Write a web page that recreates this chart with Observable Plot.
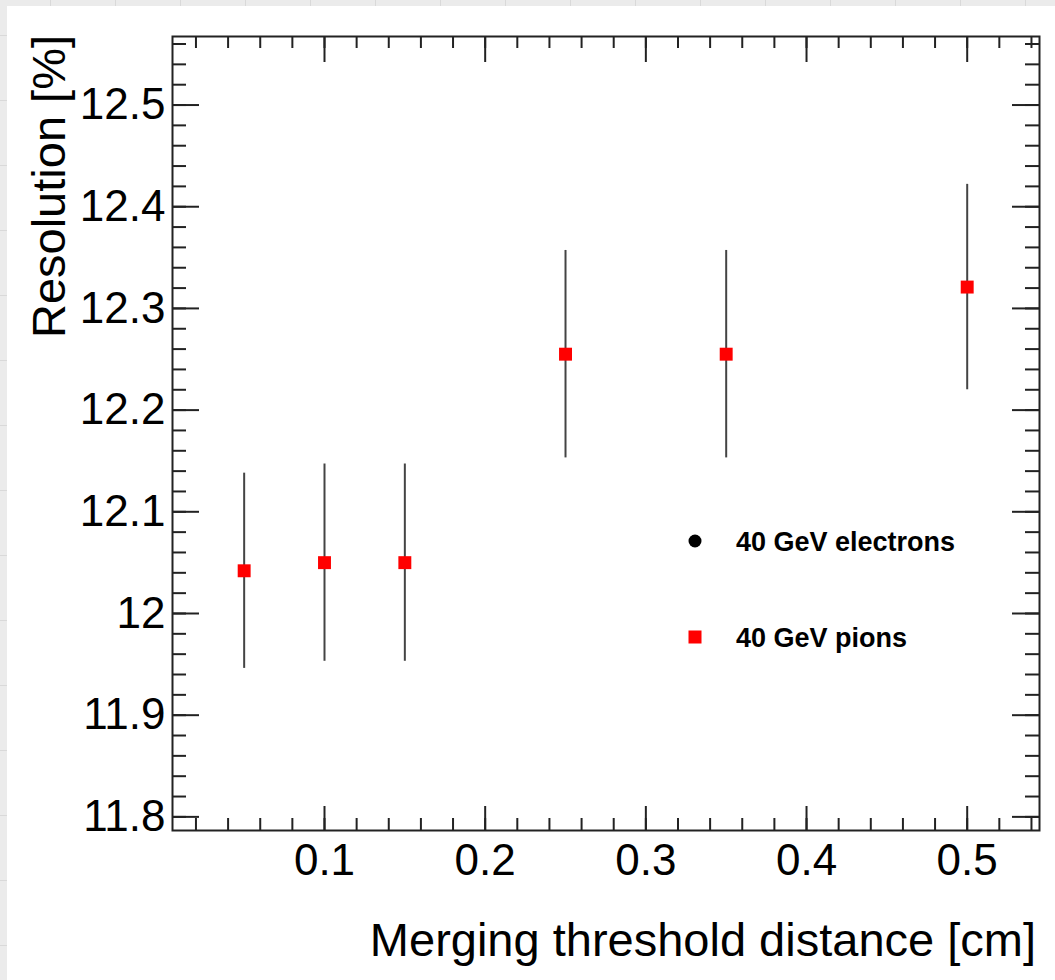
<!DOCTYPE html>
<html>
<head>
<meta charset="utf-8">
<script src="https://cdn.jsdelivr.net/npm/d3@7"></script>
<script src="https://cdn.jsdelivr.net/npm/@observablehq/plot@0.6"></script>
<style>
  html, body { margin: 0; padding: 0; }
  body {
    width: 1055px; height: 980px; overflow: hidden;
    background-color: #ebebeb;
    background-image:
      linear-gradient(to right, #d9d9d9 1px, transparent 1px),
      linear-gradient(to bottom, #d9d9d9 1px, transparent 1px);
    background-size: 65px 65px;
    background-position: 50px 35px;
  }
  #wrap { position: absolute; left: 7px; top: 6px; width: 1048px; height: 974px; background: #fff; }
  #wrap svg { display: block; }
</style>
</head>
<body>
<div id="wrap"></div>
<script>
// ---- data ----
const distances = [0.05, 0.10, 0.15, 0.25, 0.35, 0.50];          // Merging threshold distance [cm]
const pionResolution = [12.042, 12.050, 12.050, 12.255, 12.255, 12.321]; // Resolution [%]
const pionError = [0.096, 0.097, 0.097, 0.102, 0.102, 0.101];
const legendLabels = ["40 GeV electrons", "40 GeV pions"];
const legendColors = ["#000000", "#ff0000"];
const legendSymbols = ["circle", "square"];
const xMajorTicks = [0.1, 0.2, 0.3, 0.4, 0.5];
const yMajorTicks = [11.8, 11.9, 12.0, 12.1, 12.2, 12.3, 12.4, 12.5];
const xMinorTicks = d3.range(1, 28).map(k => k / 50);
const yMinorTicks = d3.range(590, 629).map(k => k / 50);
const xDomain = [0.0054, 0.545];
const yDomain = [11.7866, 12.5674];

const pions = distances.map((x, i) => ({x, y: pionResolution[i], e: pionError[i]}));

const W = 1048, H = 974;
const mL = 165, mR = 16, mT = 30, mB = 150;
const fw = W - mL - mR, fh = H - mT - mB;
const tickColor = "#222";

const plot = Plot.plot({
  width: W, height: H,
  marginLeft: mL, marginRight: mR, marginTop: mT, marginBottom: mB,
  style: {fontFamily: "'Liberation Sans', Arial, Helvetica, sans-serif", color: "#000", background: "transparent"},
  x: {domain: xDomain},
  y: {domain: yDomain},
  marks: [
    // ticks (ROOT style: inward, on all four sides)
    Plot.ruleX(xMinorTicks, {insetTop: fh - 12, stroke: tickColor, strokeWidth: 2}),
    Plot.ruleX(xMajorTicks, {insetTop: fh - 24, stroke: tickColor, strokeWidth: 2}),
    Plot.ruleX(xMinorTicks, {insetBottom: fh - 12, stroke: tickColor, strokeWidth: 2}),
    Plot.ruleX(xMajorTicks, {insetBottom: fh - 26, stroke: tickColor, strokeWidth: 2}),
    Plot.ruleY(yMinorTicks, {insetRight: fw - 14, stroke: tickColor, strokeWidth: 2}),
    Plot.ruleY(yMajorTicks, {insetRight: fw - 27, stroke: tickColor, strokeWidth: 2}),
    Plot.ruleY(yMinorTicks, {insetLeft: fw - 14, stroke: tickColor, strokeWidth: 2}),
    Plot.ruleY(yMajorTicks, {insetLeft: fw - 27, stroke: tickColor, strokeWidth: 2}),
    Plot.frame({stroke: tickColor, strokeWidth: 2}),
    Plot.axisX({ticks: xMajorTicks, tickSize: 0, tickPadding: 13, fontSize: 44, label: null,
                tickFormat: d => String(+d.toFixed(1))}),
    Plot.axisY({ticks: yMajorTicks, tickSize: 0, tickPadding: 7, fontSize: 44, label: null,
                tickFormat: d => String(+d.toFixed(1))}),
    // error bars
    Plot.ruleX(pions, {x: "x", y1: d => d.y - d.e, y2: d => d.y + d.e, stroke: "#444", strokeWidth: 2}),
    // markers
    Plot.dot(pions, {x: "x", y: "y", symbol: "square", r: 7.3, fill: "#ff0000", stroke: "none"})
  ]
});

document.getElementById("wrap").appendChild(plot);

const svg = d3.select(plot);
const font = "'Liberation Sans', Arial, Helvetica, sans-serif";

// axis titles
svg.append("text")
  .attr("transform", `translate(${W - 19},950)`)
  .attr("text-anchor", "end")
  .attr("font-family", font).attr("font-size", 47).attr("fill", "#000")
  .text("Merging threshold distance [cm]");
svg.append("text")
  .attr("transform", "translate(58,29) rotate(-90)")
  .attr("text-anchor", "end")
  .attr("font-family", font).attr("font-size", 47).attr("fill", "#000")
  .text("Resolution [%]");

// legend (inside the frame)
const lg = svg.append("g").attr("transform", "translate(688,535)");
legendLabels.forEach((lab, i) => {
  const g = lg.append("g").attr("transform", `translate(0,${i * 96})`);
  if (legendSymbols[i] === "circle") {
    g.append("circle").attr("r", 6.5).attr("fill", legendColors[i]);
  } else {
    g.append("rect").attr("x", -6.5).attr("y", -6.5).attr("width", 13).attr("height", 13).attr("fill", legendColors[i]);
  }
  g.append("text").attr("x", 41).attr("y", 10)
    .attr("text-anchor", "start")
    .attr("font-family", font).attr("font-size", 27).attr("font-weight", "bold").attr("fill", "#000")
    .text(lab);
});
</script>
</body>
</html>
